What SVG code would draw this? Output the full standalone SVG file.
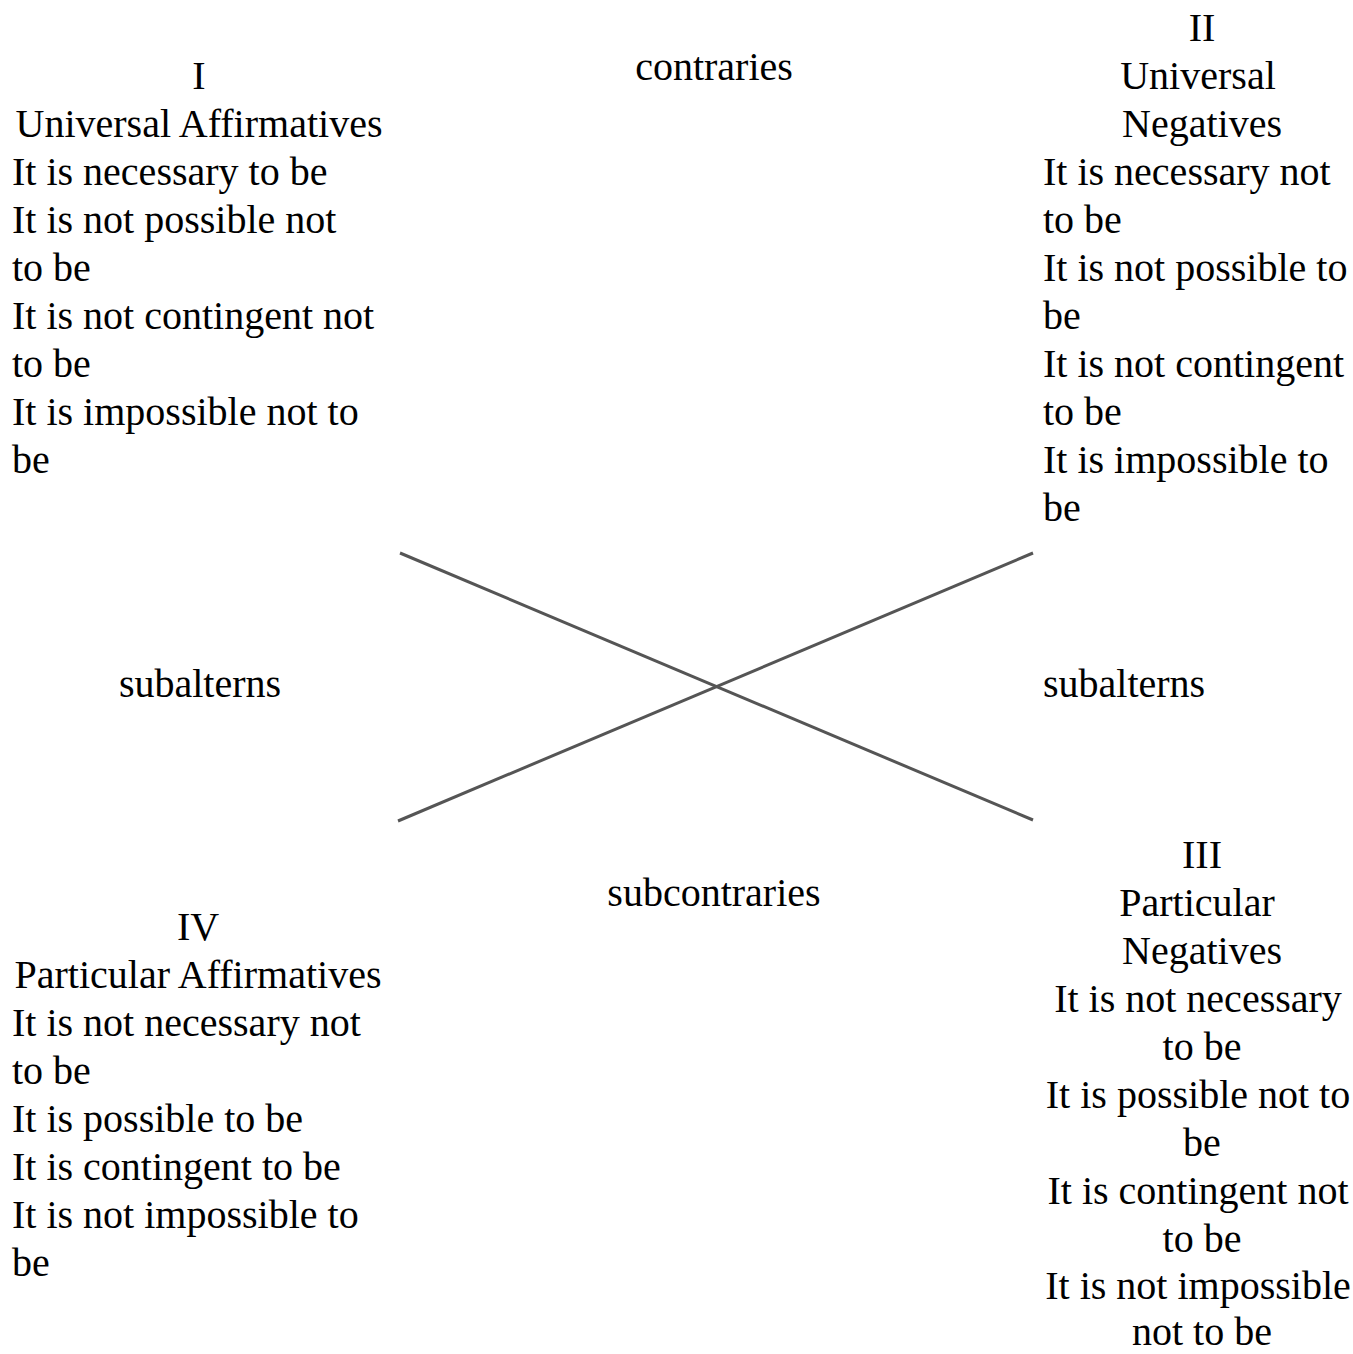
<svg xmlns="http://www.w3.org/2000/svg" width="1353" height="1354" viewBox="0 0 1353 1354">
<style>
text{font-family:"Liberation Serif","Times New Roman",serif;font-size:40px;fill:#000}
.c{text-anchor:middle}
.conn line{stroke:#555;stroke-width:3;stroke-linecap:butt}
</style>
<rect width="1353" height="1354" fill="#fff"/>
<g class="conn" id="connectors">
<line x1="400" y1="553" x2="1033" y2="820"/>
<line x1="398" y1="821" x2="1033" y2="553"/>
</g>
<g id="node-I">
<text class="c" x="199" y="89">I</text>
<text class="c" x="199" y="137">Universal Affirmatives</text>
<text x="12" y="185">It is necessary to be</text>
<text x="12" y="233">It is not possible not</text>
<text x="12" y="281">to be</text>
<text x="12" y="329">It is not contingent not</text>
<text x="12" y="377">to be</text>
<text x="12" y="425">It is impossible not to</text>
<text x="12" y="473">be</text>
</g>
<g id="node-II">
<text class="c" x="1202" y="41">II</text>
<text class="c" x="1198" y="89">Universal</text>
<text class="c" x="1202" y="137">Negatives</text>
<text x="1043" y="185">It is necessary not</text>
<text x="1043" y="233">to be</text>
<text x="1043" y="281">It is not possible to</text>
<text x="1043" y="329">be</text>
<text x="1043" y="377">It is not contingent</text>
<text x="1043" y="425">to be</text>
<text x="1043" y="473">It is impossible to</text>
<text x="1043" y="521">be</text>
</g>
<g id="label-contraries"><text class="c" x="714" y="80">contraries</text></g>
<g id="label-subalterns-left"><text class="c" x="200" y="697">subalterns</text></g>
<g id="label-subalterns-right"><text x="1043" y="697">subalterns</text></g>
<g id="label-subcontraries"><text class="c" x="714" y="906">subcontraries</text></g>
<g id="node-IV">
<text class="c" x="198" y="940">IV</text>
<text class="c" x="198" y="988">Particular Affirmatives</text>
<text x="12" y="1036">It is not necessary not</text>
<text x="12" y="1084">to be</text>
<text x="12" y="1132">It is possible to be</text>
<text x="12" y="1180">It is contingent to be</text>
<text x="12" y="1228">It is not impossible to</text>
<text x="12" y="1276">be</text>
</g>
<g id="node-III">
<text class="c" x="1202" y="868">III</text>
<text class="c" x="1197" y="916">Particular</text>
<text class="c" x="1202" y="964">Negatives</text>
<text class="c" x="1198" y="1012">It is not necessary</text>
<text class="c" x="1202" y="1060">to be</text>
<text class="c" x="1198" y="1108">It is possible not to</text>
<text class="c" x="1202" y="1156">be</text>
<text class="c" x="1198" y="1204">It is contingent not</text>
<text class="c" x="1202" y="1252">to be</text>
<text class="c" x="1198" y="1299">It is not impossible</text>
<text class="c" x="1202" y="1345">not to be</text>
</g>
</svg>
